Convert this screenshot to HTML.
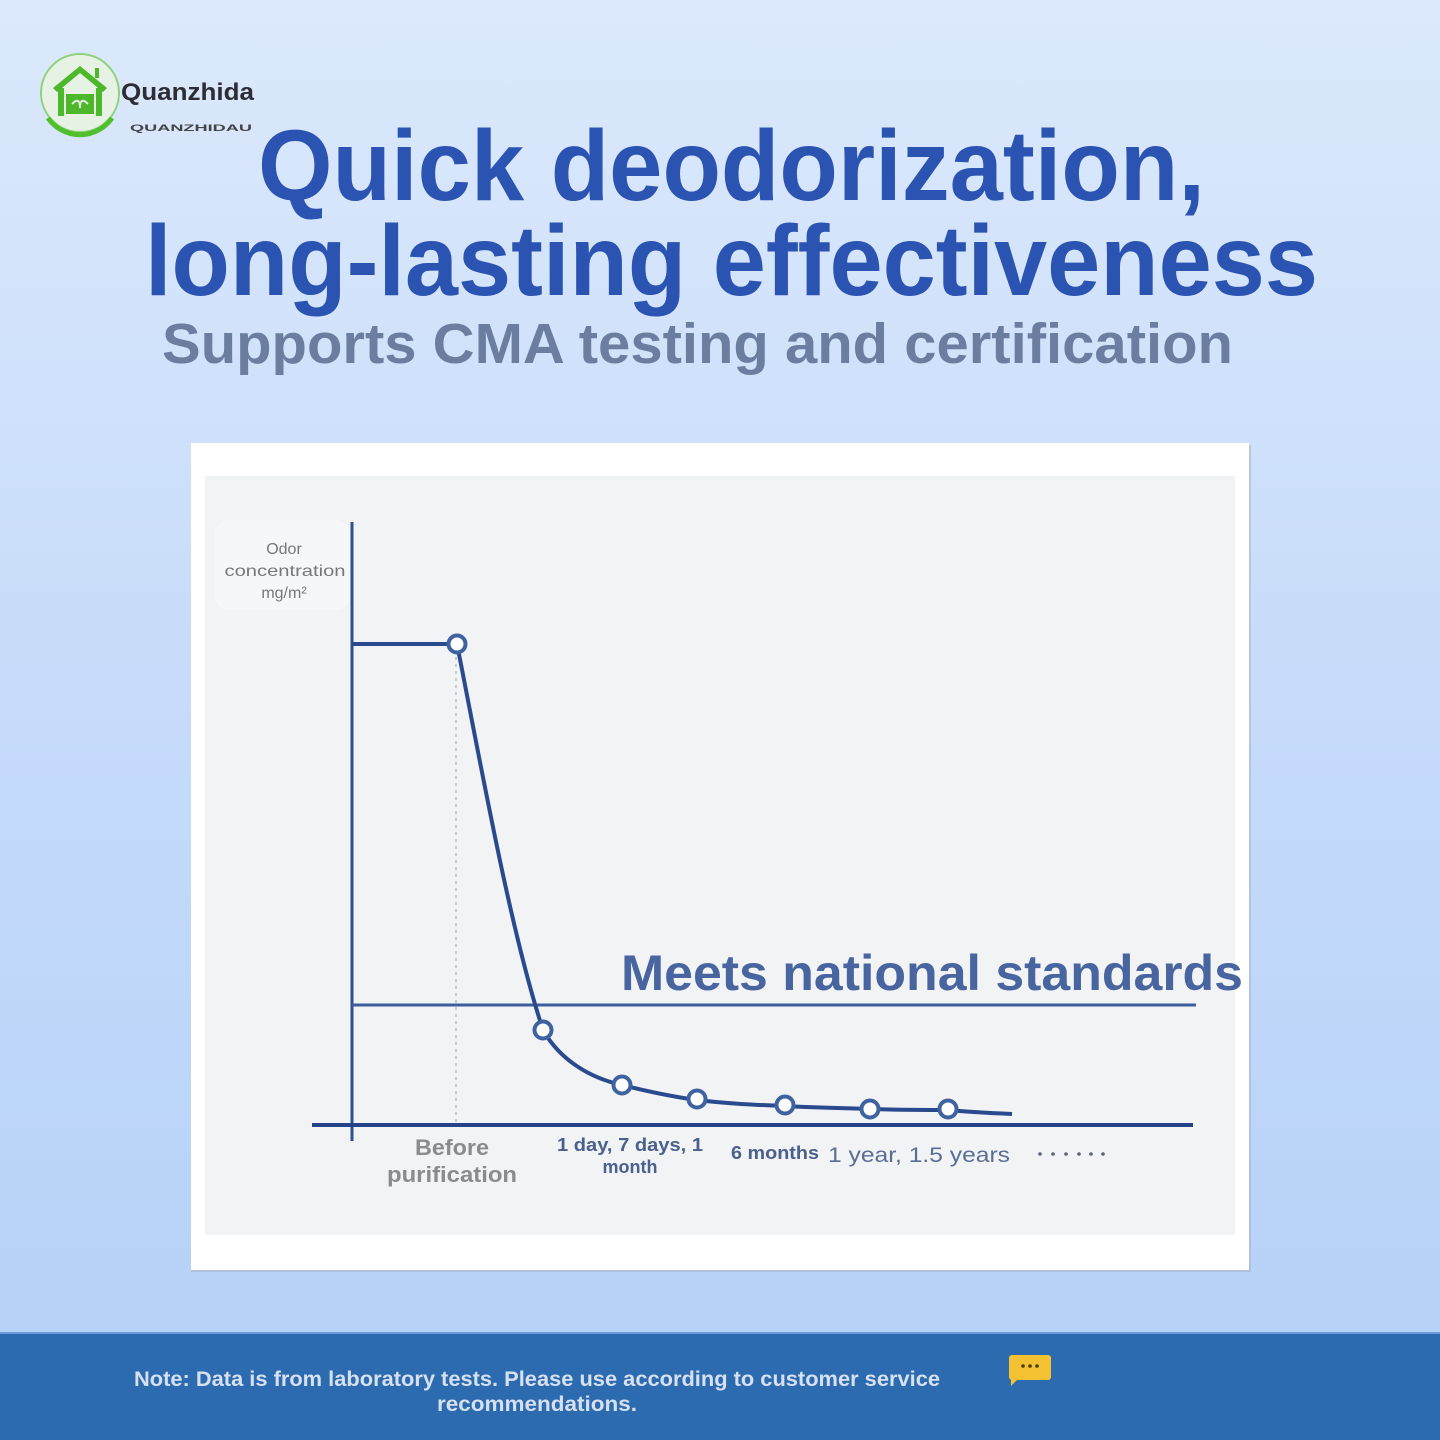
<!DOCTYPE html>
<html><head><meta charset="utf-8">
<style>
html,body{margin:0;padding:0;width:1440px;height:1440px;overflow:hidden;}
svg{display:block;}
text{font-family:"Liberation Sans",sans-serif;}
</style></head>
<body>
<svg width="1440" height="1440" viewBox="0 0 1440 1440" xmlns="http://www.w3.org/2000/svg">
<defs>
<linearGradient id="bg" x1="0" y1="0" x2="0" y2="1">
<stop offset="0" stop-color="#dce9fc"/>
<stop offset="0.45" stop-color="#c9ddfa"/>
<stop offset="1" stop-color="#b6d2f8"/>
</linearGradient>
</defs>
<rect x="0" y="0" width="1440" height="1335" fill="url(#bg)"/>
<!-- footer -->
<rect x="0" y="1333" width="1440" height="107" fill="#2c6bb0"/>
<rect x="0" y="1332" width="1440" height="2" fill="#6d9ad4"/>

<!-- logo -->
<circle cx="80" cy="93" r="39" fill="#e6f2e4" stroke="#8fd27c" stroke-width="2"/>
<path d="M48 118 A39 39 0 0 0 112 118" fill="none" stroke="#4fbf2d" stroke-width="5"/>
<g fill="#4cb82a">
<path d="M53 88 L80 66 L107 88 L103 92 L80 73 L57 92 Z"/>
<rect x="58" y="88" width="6" height="28"/>
<rect x="96" y="88" width="6" height="28"/>
<rect x="66" y="94" width="28" height="20"/>
<rect x="95" y="68" width="4" height="10"/>
</g>
<path d="M72 104 q8 -8 8 4 q0 -12 8 -4" fill="none" stroke="#e6f2e4" stroke-width="2"/>
<text x="121" y="100" font-size="24" font-weight="bold" fill="#2d2d33" textLength="133" lengthAdjust="spacingAndGlyphs">Quanzhida</text>
<text x="130" y="131" font-size="9" font-weight="bold" fill="#444" textLength="122" lengthAdjust="spacingAndGlyphs">QUANZHIDAU</text>

<!-- titles -->
<text x="258" y="200" font-size="100" font-weight="bold" fill="#2b53b2" textLength="947" lengthAdjust="spacingAndGlyphs">Quick deodorization,</text>
<text x="145" y="295" font-size="100" font-weight="bold" fill="#2b53b2" textLength="1173" lengthAdjust="spacingAndGlyphs">long-lasting effectiveness</text>
<text x="162" y="363" font-size="57" font-weight="bold" fill="#6b7ea0" textLength="1071" lengthAdjust="spacingAndGlyphs">Supports CMA testing and certification</text>

<!-- card -->
<rect x="191" y="445" width="1060" height="827" fill="#a9b7cc" opacity="0.6"/>
<rect x="191" y="443" width="1058" height="827" fill="#ffffff"/>
<rect x="205" y="476" width="1030" height="759" fill="#f2f3f5"/>
<rect x="215" y="520" width="135" height="90" rx="14" fill="#f6f7f8"/>

<!-- y label -->
<g font-size="16" fill="#777" text-anchor="middle">
<text x="284" y="554">Odor</text>
<text x="285" y="576" textLength="121" lengthAdjust="spacingAndGlyphs">concentration</text>
<text x="284" y="598">mg/m²</text>
</g>

<!-- dotted vertical -->
<line x1="456" y1="650" x2="456" y2="1123" stroke="#c8cbd0" stroke-width="2" stroke-dasharray="3,4"/>

<!-- axes -->
<line x1="352" y1="522" x2="352" y2="1141" stroke="#2d4f94" stroke-width="3"/>
<line x1="312" y1="1125" x2="1193" y2="1125" stroke="#23438a" stroke-width="4"/>

<!-- standard line -->
<line x1="352" y1="1005" x2="1196" y2="1005" stroke="#3d5e9d" stroke-width="3"/>

<!-- Meets national standards -->
<text x="621" y="990" font-size="50" font-weight="bold" fill="#4865a0" textLength="622" lengthAdjust="spacingAndGlyphs">Meets national standards</text>

<!-- curve -->
<path d="M352 644 L457 644 C480 760 510 930 543 1030 C560 1060 590 1078 622 1085 C650 1092 675 1097 697 1100 C730 1104 760 1105 785 1106 C820 1108 850 1108 870 1109 C900 1110 930 1110 948 1110 C970 1112 990 1113 1012 1114" fill="none" stroke="#2a4a8e" stroke-width="4"/>
<g fill="#ffffff" stroke="#3f62a0" stroke-width="4">
<circle cx="457" cy="644" r="8.5"/>
<circle cx="543" cy="1030" r="8.5"/>
<circle cx="622" cy="1085" r="8.5"/>
<circle cx="697" cy="1099" r="8.5"/>
<circle cx="785" cy="1105" r="8.5"/>
<circle cx="870" cy="1109" r="8.5"/>
<circle cx="948" cy="1109" r="8.5"/>
</g>

<!-- x labels -->
<g font-weight="bold" text-anchor="middle">
<text x="452" y="1155" font-size="22" fill="#8a8b8e" textLength="74" lengthAdjust="spacingAndGlyphs">Before</text>
<text x="452" y="1182" font-size="22" fill="#8a8b8e" textLength="130" lengthAdjust="spacingAndGlyphs">purification</text>
<text x="630" y="1151" font-size="18" fill="#4b608c" textLength="146" lengthAdjust="spacingAndGlyphs">1 day, 7 days, 1</text>
<text x="630" y="1173" font-size="18" fill="#4b608c">month</text>
</g>
<text x="731" y="1159" font-size="18" font-weight="bold" fill="#4b608c" textLength="88" lengthAdjust="spacingAndGlyphs">6 months</text>
<text x="828" y="1162" font-size="21" fill="#5a6e94" textLength="182" lengthAdjust="spacingAndGlyphs">1 year, 1.5 years</text>
<g fill="#5a6478">
<circle cx="1040" cy="1154" r="1.8"/><circle cx="1053" cy="1154" r="1.8"/><circle cx="1066" cy="1154" r="1.8"/>
<circle cx="1079" cy="1154" r="1.8"/><circle cx="1091" cy="1154" r="1.8"/><circle cx="1103" cy="1154" r="1.8"/>
</g>

<!-- footer text -->
<text x="134" y="1386" font-size="21" font-weight="bold" fill="#d6e0ee" textLength="806" lengthAdjust="spacingAndGlyphs">Note: Data is from laboratory tests. Please use according to customer service</text>
<text x="537" y="1411" font-size="21" font-weight="bold" fill="#d6e0ee" text-anchor="middle" textLength="200" lengthAdjust="spacingAndGlyphs">recommendations.</text>

<!-- chat icon -->
<rect x="1009" y="1355" width="42" height="25" rx="3" fill="#f4c132"/>
<path d="M1011 1378 L1011 1386 L1018 1379 Z" fill="#f4c132"/>
<circle cx="1023" cy="1366" r="1.8" fill="#4a3a10"/>
<circle cx="1030" cy="1366" r="1.8" fill="#4a3a10"/>
<circle cx="1037" cy="1366" r="1.8" fill="#4a3a10"/>
</svg>
</body></html>
